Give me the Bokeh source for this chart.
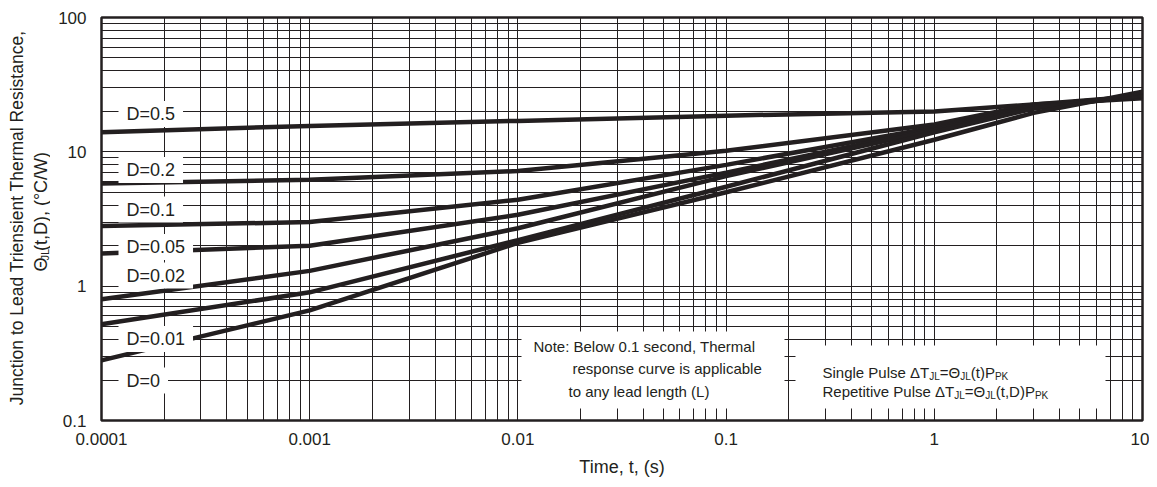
import math
from bokeh.plotting import figure
from bokeh.layouts import row
from bokeh.models import FixedTicker, CustomJSTickFormatter, Label, BoxAnnotation, Range1d
from bokeh.embed import file_html
from bokeh.resources import INLINE

# ---------------- data ----------------
t = [1e-4, 1e-3, 1e-2, 1e-1, 1, 3, 10]
d_050 = [14.0, 15.6, 17.0, 18.6, 20.0, 22.5, 25.0]
d_020 = [5.8, 6.2, 7.2, 10.2, 16.0, 22.5, 26.0]
d_010 = [2.8, 3.0, 4.4, 8.0, 15.2, 22.0, 26.0]
d_005 = [1.75, 2.0, 3.4, 7.0, 14.8, 22.0, 26.0]
d_002 = [0.8, 1.3, 2.7, 6.6, 14.5, 21.5, 26.0]
d_001 = [0.52, 0.9, 2.2, 5.5, 14.0, 21.0, 26.5]
d_000 = [0.28, 0.66, 2.1, 5.0, 12.3, 19.5, 28.0]
series_names = ["D=0.5", "D=0.2", "D=0.1", "D=0.05", "D=0.02", "D=0.01", "D=0"]
series_vals = [d_050, d_020, d_010, d_005, d_002, d_001, d_000]
x_ticks = [1e-4, 1e-3, 1e-2, 1e-1, 1, 10]
y_ticks = [0.1, 1, 10, 100]

INK = "#231f20"
FONT = "Liberation Sans"

CH = 479
LW = 50            # width of the strip holding the y-axis title
MW = 1099          # width of the main figure
# frame geometry in page-canvas pixels (strip + main)
FL, FR, FT, FB = 101, 1142, 17, 420


def dx(px):
    return 10 ** (-4 + 5 * (px - FL) / (FR - FL))


def dy(py):
    return 10 ** (2 - 3 * (py - FT) / (FB - FT))


W = {' ': 278, '(': 333, ')': 333, ',': 278, '.': 278, '/': 278, ':': 278, '=': 584,
     'C': 722, 'D': 722, 'J': 500, 'K': 667, 'L': 556, 'P': 667, 'R': 722, 'S': 667,
     'T': 611, 'W': 944, 'a': 556, 'c': 500, 'e': 556, 'g': 556, 'i': 222, 'l': 222,
     'n': 556, 'p': 556, 'r': 333, 's': 500, 't': 278, 'u': 556, 'v': 500,
     '\u00b0': 400, '\u0394': 668, '\u0398': 778}


def tw(s, size):
    return sum(W.get(c, 556) for c in s) * size / 1000.0


# ---------------- main chart ----------------
p = figure(width=MW, height=CH, x_axis_type="log", y_axis_type="log",
           x_range=(1e-4, 10), y_range=(0.1, 100),
           output_backend="svg", toolbar_location=None,
           min_border_left=FL - LW, min_border_right=LW + MW - FR,
           min_border_top=FT, min_border_bottom=CH - FB)
p.background_fill_color = "white"
p.border_fill_color = "white"
p.outline_line_color = INK
p.outline_line_width = 2.5

minor_x = [m * 10 ** e for e in range(-4, 1) for m in range(2, 10)]
minor_y = [m * 10 ** e for e in range(-1, 2) for m in range(2, 10)]
p.xaxis.ticker = FixedTicker(ticks=x_ticks, minor_ticks=minor_x)
p.yaxis.ticker = FixedTicker(ticks=y_ticks, minor_ticks=minor_y)
fmt = "return tick.toString();"
p.xaxis.formatter = CustomJSTickFormatter(code=fmt)
p.yaxis.formatter = CustomJSTickFormatter(code=fmt)

for ax in (p.xaxis[0], p.yaxis[0]):
    ax.axis_line_color = None
    ax.major_tick_line_color = None
    ax.minor_tick_line_color = None
    ax.major_label_text_font = FONT
    ax.major_label_text_font_size = "17px"
    ax.major_label_text_color = INK
p.xaxis.major_label_standoff = 6
p.yaxis.major_label_standoff = 9
p.xaxis.axis_label = "Time, t, (s)"
p.xaxis.axis_label_text_font = FONT
p.xaxis.axis_label_text_font_size = "18px"
p.xaxis.axis_label_text_font_style = "normal"
p.xaxis.axis_label_text_color = INK
p.xaxis.axis_label_standoff = 9

for g in (p.xgrid[0], p.ygrid[0]):
    g.grid_line_color = INK
    g.grid_line_width = 1
    g.grid_line_alpha = 1
    g.minor_grid_line_color = INK
    g.minor_grid_line_width = 1
    g.minor_grid_line_alpha = 1

for vals in series_vals:
    p.line(t, vals, line_width=4.5, line_color=INK)

# curve labels
label_y = [113.5, 169.5, 209, 246.5, 275, 338.5, 380]
for name, ly in zip(series_names, label_y):
    p.add_layout(Label(x=dx(118), y=dy(ly), text=name, text_font=FONT,
                       text_font_size="18px", text_color=INK,
                       text_align="left", text_baseline="middle",
                       background_fill_color="white", background_fill_alpha=1.0,
                       padding=(8, 3)))

# note boxes
p.add_layout(BoxAnnotation(left=dx(521), right=dx(784), top=dy(331), bottom=dy(408),
                           fill_color="white", fill_alpha=1.0, line_color=None))
p.add_layout(BoxAnnotation(left=dx(795), right=dx(1105), top=dy(345), bottom=dy(408),
                           fill_color="white", fill_alpha=1.0, line_color=None))

NS = 15
note_lines = [("Note: Below 0.1 second, Thermal", 533, 345.5),
              ("response curve is applicable", 572, 368),
              ("to any lead length (L)", 568, 390.5)]
for txt, lx, ly in note_lines:
    p.add_layout(Label(x=dx(lx), y=dy(ly), text=txt, text_font=FONT,
                       text_font_size=f"{NS}px", text_color=INK,
                       text_align="left", text_baseline="middle"))

SUB = 10
formula_lines = [
    ([("Single Pulse \u0394T", 0), ("JL", 1), ("=\u0398", 0), ("JL", 1), ("(t)P", 0), ("PK", 1)], 822, 372),
    ([("Repetitive Pulse \u0394T", 0), ("JL", 1), ("=\u0398", 0), ("JL", 1), ("(t,D)P", 0), ("PK", 1)], 822, 391),
]
for pieces, lx, ly in formula_lines:
    cx = lx
    for txt, sub in pieces:
        size = SUB if sub else NS
        p.add_layout(Label(x=dx(cx), y=dy(ly), y_offset=(-4 if sub else 0), text=txt,
                           text_font=FONT, text_font_size=f"{size}px", text_color=INK,
                           text_align="left", text_baseline="middle"))
        cx += tw(txt, size)

# ---------------- strip with the rotated y-axis title ----------------
s = figure(width=LW, height=CH, x_range=Range1d(0, LW), y_range=Range1d(0, CH),
           output_backend="svg", toolbar_location=None,
           x_axis_location=None, y_axis_location=None,
           min_border_left=0, min_border_right=0, min_border_top=0, min_border_bottom=0)
s.outline_line_color = None
s.grid.visible = False
s.background_fill_color = "white"
s.border_fill_color = "white"

YS = 17.5
s.add_layout(Label(x=16, y=CH - 238, angle=math.pi / 2,
                   text="Junction to Lead Triensient Thermal Resistance,",
                   text_font=FONT, text_font_size=f"{YS}px", text_color=INK,
                   text_align="center", text_baseline="middle"))
ypieces = [("\u0398", 0), ("JL", 1), ("(t,D),  (\u00b0C/W)", 0)]
cy = 302
for txt, sub in ypieces:
    size = 11 if sub else 18
    s.add_layout(Label(x=40 + (4 if sub else 0), y=CH - cy, angle=math.pi / 2,
                       text=txt, text_font=FONT, text_font_size=f"{size}px",
                       text_color=INK, text_align="left", text_baseline="middle"))
    cy -= tw(txt, size) * 0.95

layout = row(s, p, spacing=0)
open("out.html", "w").write(file_html(layout, INLINE))
